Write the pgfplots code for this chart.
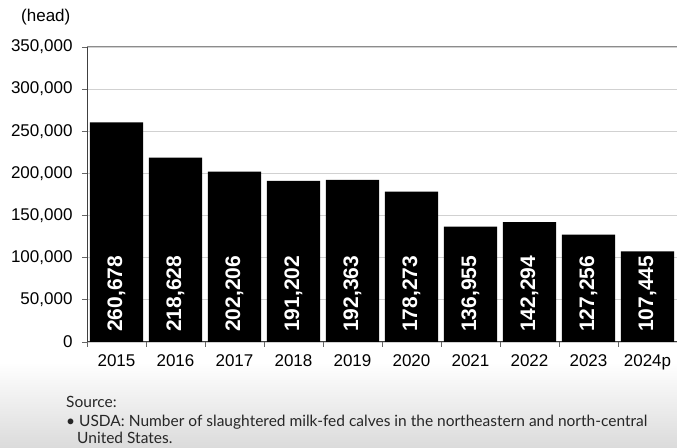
\documentclass[border=0pt]{standalone}
\usepackage{pgfplots}
\pgfplotsset{compat=1.18}
\usepackage{fontspec}
\setmainfont{Liberation Sans}
\newfontfamily\srcfont{Lato}
\begin{document}
\begin{tikzpicture}
\path[use as bounding box] (0pt,0pt) rectangle (677pt,447pt);
\shade[top color=white, bottom color=black!14] (0pt,0pt) rectangle (677pt,85pt);
\node[anchor=base west, inner sep=0pt, font=\fontsize{17}{17}\selectfont] at (21pt,425pt) {(head)};
\begin{axis}[
  at={(87pt,105pt)}, anchor=south west,
  scale only axis, width=590pt, height=295pt,
  xmin=-0.5, xmax=9.5, ymin=0, ymax=350000,
  axis x line*=bottom, axis y line*=left,
  axis line style={black!75, line width=1pt},
  ytick={0,50000,...,350000},
  scaled y ticks=false,
  ymajorgrids, grid style={black!18, line width=0.9pt},
  tick align=outside,
  major tick length=5pt,
  y tick style={black!60, line width=0.8pt},
  yticklabel style={/pgf/number format/fixed, /pgf/number format/1000 sep={,}, /pgf/number format/assume math mode=true, font=\fontsize{17}{17}\selectfont, xshift=-6pt},
  xtick={0,...,9},
  xticklabels={2015,2016,2017,2018,2019,2020,2021,2022,2023,2024p},
  x tick style={draw=none},
  minor xtick={-0.5,0.5,...,9.5},
  minor tick length=5pt,
  minor x tick style={black!60, line width=0.8pt, draw=black!60},
  xticklabel style={font=\fontsize{17}{17}\selectfont, yshift=-4pt},
  clip=false,
]
\draw[black!45, line width=1pt] (axis cs:-0.5,350000) -- (axis cs:9.5,350000);
\addplot[ybar, bar width=0.9, fill=black, draw=none] table[x=x, y=y] {
x y
0 260678
1 218628
2 202206
3 191202
4 192363
5 178273
6 136955
7 142294
8 127256
9 107445
};
\addplot[draw=none, mark=none, nodes near coords, point meta=explicit symbolic,
  nodes near coords style={rotate=90, anchor=west, inner xsep=10pt, font=\bfseries\fontsize{21}{21}\selectfont, text=white}]
  table[x=x, y=y, meta=lab] {
x y lab
0 0 260,678
1 0 218,628
2 0 202,206
3 0 191,202
4 0 192,363
5 0 178,273
6 0 136,955
7 0 142,294
8 0 127,256
9 0 107,445
};
\end{axis}
\node[anchor=base west, inner sep=0pt, font=\srcfont\fontsize{15.5}{15.5}\selectfont, text=black!85] at (66pt,39pt) {Source:};
\node[anchor=base west, inner sep=0pt, font=\srcfont\fontsize{15.5}{15.5}\selectfont, text=black!85] at (66pt,20pt) {• USDA: Number of slaughtered milk-fed calves in the northeastern and north-central};
\node[anchor=base west, inner sep=0pt, font=\srcfont\fontsize{15.5}{15.5}\selectfont, text=black!85] at (77pt,4pt) {United States.};
\end{tikzpicture}
\end{document}
